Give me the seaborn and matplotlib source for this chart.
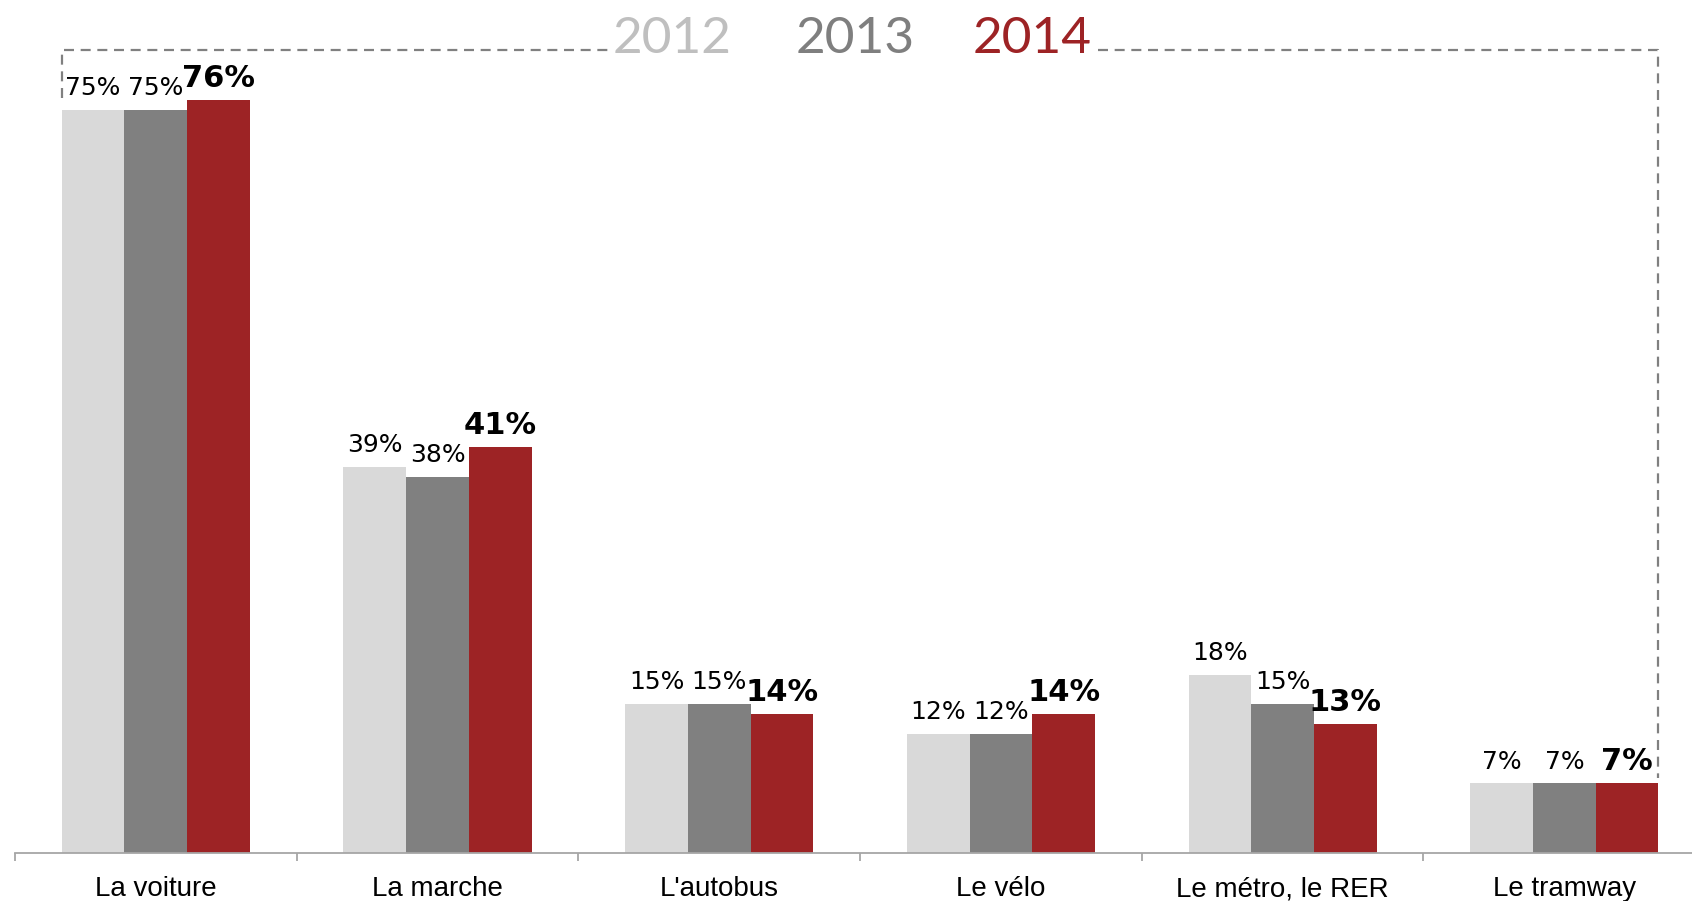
#! /usr/bin/env python3
'''
Modes de transport utilises, 2012 / 2013 / 2014 (grouped bars)
'''

import matplotlib
matplotlib.use('Agg')
import matplotlib.pyplot as plt
from matplotlib.ticker import FixedLocator
import pandas as pd
import seaborn as sns

# data
MODES = ['La voiture', 'La marche', "L'autobus", 'Le vélo', 'Le métro, le RER', 'Le tramway']
YEARS = ['2012', '2013', '2014']
VALUES_2012 = [75, 39, 15, 12, 18, 7]
VALUES_2013 = [75, 38, 15, 12, 15, 7]
VALUES_2014 = [76, 41, 14, 14, 13, 7]

# styles
BAR_COLORS = ['#D9D9D9', '#808080', '#9D2325']
TITLE_COLORS = ['#BFBFBF', '#7F7F7F', '#9D2325']
AXIS_GREY = '#A6A6A6'
DASH_GREY = '#808080'

# long table for seaborn
rows = list()
for year, vals in zip(YEARS, [VALUES_2012, VALUES_2013, VALUES_2014]):
    for mode, v in zip(MODES, vals):
        rows.append({'mode': mode, 'year': year, 'value': v})
df = pd.DataFrame(rows)

sns.set_theme(style='white')
plt.rcParams['font.family'] = ['DejaVu Sans']

fig = plt.figure(figsize=(16.92, 9.01), dpi=100)
W, H = 1692., 901.
base_px = 852.7          # baseline, px from top
left_px = 15.            # left end of axis
cat_px = 281.7           # width of one category
px_per_pct = 9.9
ax = fig.add_axes([left_px / W, (H - base_px) / H, (W - left_px) / W, base_px / H])

GROUP_W = 0.668
sns.barplot(data=df, x='mode', y='value', hue='year', hue_order=YEARS, order=MODES,
            palette=BAR_COLORS, width=GROUP_W, saturation=1, legend=False,
            linewidth=0, ax=ax)

ax.set_xlim(-0.5, -0.5 + (W - left_px) / cat_px)
ax.set_ylim(0, base_px / px_per_pct)

# axes cosmetics
for s in ['top', 'right', 'left']:
    ax.spines[s].set_visible(False)
ax.spines['bottom'].set_color(AXIS_GREY)
ax.spines['bottom'].set_linewidth(1.3)
ax.set_yticks([])
ax.set_xlabel('')
ax.set_ylabel('')
ax.tick_params(axis='x', which='major', bottom=True, length=0, pad=17, labelsize=20, labelcolor='black')
for t in ax.get_xticklabels():
    t.set_fontfamily('Liberation Sans')
ax.xaxis.set_minor_locator(FixedLocator([i - 0.5 for i in range(len(MODES) + 1)]))
ax.tick_params(axis='x', which='minor', bottom=True, length=6, width=1.3, color=AXIS_GREY, direction='out')

# value labels
for i, cont in enumerate(ax.containers):
    labels = ['%d%%' % v for v in cont.datavalues]
    if i == 2:
        ax.bar_label(cont, labels=labels, padding=5, fontsize=22, fontweight='bold', color='black')
    else:
        ax.bar_label(cont, labels=labels, padding=7, fontsize=18, color='black')

# dashed frame with year titles
half = GROUP_W / 2
x_left = -half
x_right = len(MODES) - 1 + half
y_top = (base_px - 50) / px_per_pct
gap_a = (608 - left_px) / cat_px - 0.5
gap_b = (1098 - left_px) / cat_px - 0.5
dash = dict(color=DASH_GREY, linewidth=1.6, linestyle=(0, (4.5, 3)), clip_on=False)
ax.plot([x_left, x_left, gap_a], [(base_px - 98) / px_per_pct, y_top, y_top], **dash)
ax.plot([gap_b, x_right, x_right], [y_top, y_top, (base_px - 778) / px_per_pct], **dash)

title_x = [672, 855, 1032]
for year, col, xp in zip(YEARS, TITLE_COLORS, title_x):
    fig.text(xp / W, 1 - 53 / H, year, ha='center', va='baseline', fontsize=37,
             color=col, family='Lato', fontweight='normal')

fig.savefig('out.png', dpi=100)
